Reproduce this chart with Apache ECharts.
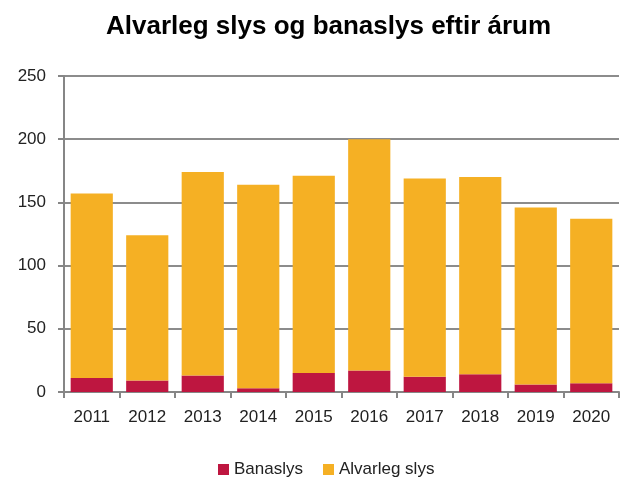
<!DOCTYPE html>
<html>
<head>
<meta charset="utf-8">
<script src="https://cdn.jsdelivr.net/npm/echarts@6/dist/echarts.min.js"></script>
<style>
html,body{margin:0;padding:0;background:#fff;}
#chart{width:625px;height:479px;}
</style>
</head>
<body>
<div id="chart"></div>
<script>
var years = ['2011','2012','2013','2014','2015','2016','2017','2018','2019','2020'];
var banaslys = [11, 9, 13, 3, 15, 17, 12, 14, 6, 7];
var alvarleg = [146, 115, 161, 161, 156, 183, 157, 156, 140, 130];
var yTicks = [0, 50, 100, 150, 200, 250];

var chart = echarts.init(document.getElementById('chart'));
var option = {
    animation: false,
    title: {
        text: 'Alvarleg slys og banaslys eftir árum',
        left: 101,
        top: 9,
        textStyle: {
            fontFamily: 'Liberation Sans Narrow, Liberation Sans, Arial',
            fontSize: 26,
            fontWeight: 'bold',
            color: '#000'
        }
    },
    legend: {
        top: 456,
        left: 213,
        itemWidth: 11,
        itemHeight: 11,
        itemGap: 20,
        icon: 'rect',
        textStyle: {fontFamily: 'Liberation Sans, Arial', fontSize: 17, color: '#222'},
        data: ['Banaslys', 'Alvarleg slys']
    },
    grid: {left: 64, right: 6, top: 76, bottom: 87},
    xAxis: {
        type: 'category',
        data: years,
        axisLine: {lineStyle: {color: '#868686', width: 2}},
        axisTick: {show: true, length: 6, lineStyle: {color: '#868686', width: 2}},
        axisLabel: {fontFamily: 'Liberation Sans, Arial', fontSize: 17, color: '#222', margin: 17}
    },
    yAxis: {
        type: 'value',
        min: yTicks[0],
        max: yTicks[yTicks.length - 1],
        interval: 50,
        axisLine: {show: true, lineStyle: {color: '#868686', width: 2}},
        axisTick: {show: true, length: 6, lineStyle: {color: '#868686', width: 2}},
        axisLabel: {fontFamily: 'Liberation Sans, Arial', fontSize: 17, color: '#222', margin: 18},
        splitLine: {lineStyle: {color: '#8c8c8c', width: 2}}
    },
    series: [
        {
            name: 'Banaslys',
            type: 'bar',
            stack: 'a',
            data: banaslys,
            barCategoryGap: '24%',
            itemStyle: {color: '#BE1640'}
        },
        {
            name: 'Alvarleg slys',
            type: 'bar',
            stack: 'a',
            data: alvarleg,
            barCategoryGap: '24%',
            itemStyle: {color: '#F5B024'}
        }
    ]
};
chart.setOption(option);
</script>
</body>
</html>
